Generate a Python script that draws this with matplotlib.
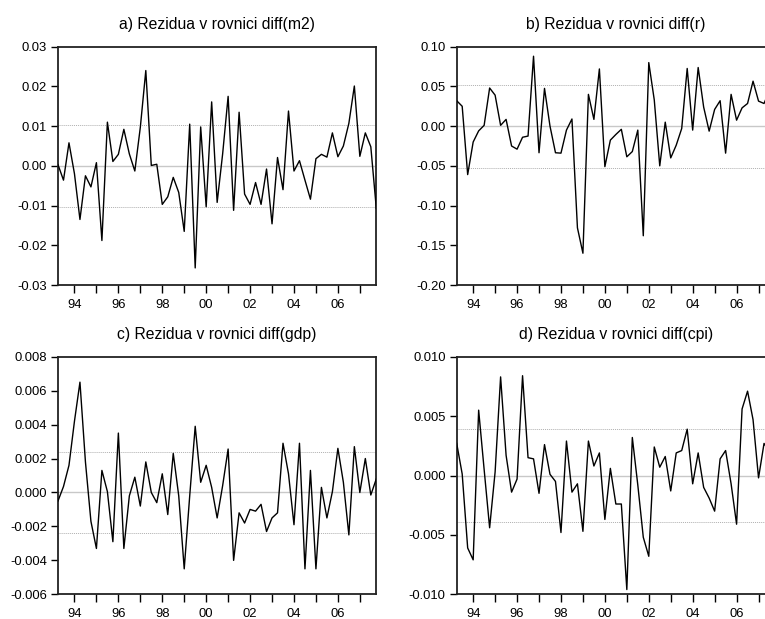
import numpy as np
import matplotlib
matplotlib.use("Agg")
import matplotlib.pyplot as plt
from matplotlib.ticker import FixedLocator, FuncFormatter

plt.rcParams['font.family'] = ['Liberation Sans', 'DejaVu Sans']

# quarterly sample 1993Q2 - 2007Q4
start_year = 1993.25
n_obs = 59

# residuals
resid_m2 = [0.0003, -0.0036, 0.0058, -0.0020, -0.0135, -0.0025, -0.0053, 0.0008, -0.0188, 0.0110,
            0.0011, 0.0029, 0.0092, 0.0030, -0.0013, 0.0097, 0.0240, 0.0001, 0.0004, -0.0097,
            -0.0078, -0.0029, -0.0067, -0.0165, 0.0105, -0.0257, 0.0098, -0.0103, 0.0161, -0.0092,
            0.0030, 0.0175, -0.0112, 0.0135, -0.0071, -0.0097, -0.0042, -0.0097, -0.0008, -0.0146,
            0.0021, -0.0060, 0.0138, -0.0013, 0.0013, -0.0036, -0.0084, 0.0018, 0.0029, 0.0022,
            0.0083, 0.0023, 0.0050, 0.0107, 0.0201, 0.0024, 0.0083, 0.0048, -0.0107]

resid_r = [0.032, 0.025, -0.061, -0.020, -0.006, 0.001, 0.048, 0.039, 0.001, 0.0085,
           -0.025, -0.029, -0.014, -0.0125, 0.088, -0.0335, 0.0475, 0.000, -0.0335, -0.034,
           -0.005, 0.009, -0.128, -0.160, 0.040, 0.0085, 0.072, -0.051, -0.0176, -0.0105,
           -0.004, -0.0386, -0.032, -0.005, -0.138, 0.080, 0.033, -0.050, 0.005, -0.040,
           -0.024, -0.003, 0.0726, -0.005, 0.0738, 0.024, -0.0063, 0.021, 0.032, -0.034,
           0.040, 0.0075, 0.023, 0.0285, 0.0566, 0.0315, 0.0285, 0.045, 0.020]

resid_gdp = [-0.0005, 0.00035, 0.0016, 0.0042, 0.0065, 0.0018, -0.0017, -0.0033, 0.0013, 0.00005,
             -0.0029, 0.0035, -0.0033, -0.0002, 0.0009, -0.0008, 0.0018, 0.0000, -0.0006, 0.0011,
             -0.0013, 0.0023, -0.0002, -0.0045, -0.0002, 0.0039, 0.0006, 0.0016, 0.0003, -0.0015,
             0.0004, 0.00256, -0.0040, -0.0012, -0.0018, -0.0010, -0.0011, -0.0007, -0.0023, -0.0015,
             -0.0012, 0.0029, 0.0011, -0.0019, 0.0029, -0.0045, 0.0013, -0.0045, 0.0003, -0.0015,
             0.00005, 0.0026, 0.0006, -0.0025, 0.0027, 0.0000, 0.0020, -0.00015, 0.0008]

resid_cpi = [0.0027, 0.00013, -0.0061, -0.0071, 0.0055, 0.0005, -0.0044, 0.0003, 0.0083, 0.0017,
             -0.0014, -0.0003, 0.0084, 0.0015, 0.0014, -0.0015, 0.0026, 0.0001, -0.0005, -0.0048,
             0.0029, -0.0014, -0.0007, -0.0047, 0.0029, 0.0008, 0.0019, -0.0037, 0.0006, -0.0024,
             -0.0024, -0.0096, 0.0032, -0.0008, -0.0052, -0.0068, 0.0024, 0.0007, 0.0016, -0.0013,
             0.0019, 0.0021, 0.0039, -0.0007, 0.0019, -0.0010, -0.0019, -0.0030, 0.0014, 0.0021,
             -0.0007, -0.0041, 0.0056, 0.0071, 0.0047, -0.0002, 0.0027, 0.0020, 0.0010]

titles = ['a) Rezidua v rovnici diff(m2)', 'b) Rezidua v rovnici diff(r)',
          'c) Rezidua v rovnici diff(gdp)', 'd) Rezidua v rovnici diff(cpi)']
band = [0.0104, 0.0524, 0.0024, 0.00388]           # +/- 1 std. error lines
y_limits = [(-0.03, 0.03), (-0.20, 0.10), (-0.006, 0.008), (-0.010, 0.010)]
y_steps = [0.01, 0.05, 0.002, 0.005]
y_fmt = ['%.2f', '%.2f', '%.3f', '%.3f']
series = [resid_m2, resid_r, resid_gdp, resid_cpi]

years = np.arange(1994, 2008)
time = start_year + 0.25 * np.arange(n_obs)

W, H = 765, 619
fig = plt.figure(figsize=(W / 100, H / 100), dpi=100)

# axes boxes in pixels: left, top, right, bottom (right column runs past the edge)
boxes = [(58, 46.7, 376.3, 285), (456.7, 46.7, 775, 285),
         (58, 356.7, 376.3, 594.3), (456.7, 356.7, 775, 594.3)]

for k in range(4):
    l, t, r, b = boxes[k]
    ax = fig.add_axes([l / W, 1 - b / H, (r - l) / W, (b - t) / H])

    # zero line and std. error bands
    ax.axhline(0, color='#c8c8c8', lw=1.0, zorder=1)
    for s in (band[k], -band[k]):
        ax.axhline(s, color='#b0b0b0', lw=0.7, ls=(0, (1, 1)), zorder=1)

    ax.plot(time, series[k], color='black', lw=1.0, zorder=3)

    ax.set_xlim(time[0], time[-1])
    ax.set_ylim(*y_limits[k])
    lo, hi = y_limits[k]
    ax.yaxis.set_major_locator(FixedLocator(np.arange(lo, hi + y_steps[k] / 2, y_steps[k])))
    ax.yaxis.set_major_formatter(FuncFormatter(lambda v, p, f=y_fmt[k]: f % (0 if abs(v) < 1e-12 else v)))

    ax.set_xticks(years)
    ax.set_xticklabels(['%02d' % (y % 100) if y % 2 == 0 else '' for y in years])

    ax.tick_params(axis='y', direction='out', length=5, width=1, labelsize=9.4, pad=3, colors='black')
    ax.tick_params(axis='x', direction='out', length=6, width=1, labelsize=9.4, pad=4, colors='black')
    for sp in ax.spines.values():
        sp.set_linewidth(1.3)
        sp.set_color('#222222')

    ax.set_title(titles[k], fontsize=11.3, pad=13)

fig.savefig('out.png', dpi=100)
